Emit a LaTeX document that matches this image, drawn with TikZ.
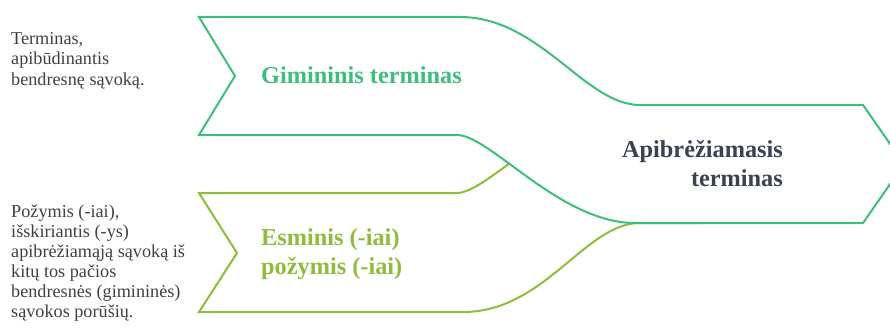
\documentclass[tikz,border=0pt]{standalone}
\usepackage{fontspec}
\setmainfont{Liberation Serif}
\definecolor{gr}{RGB}{61,190,125}
\definecolor{lime}{RGB}{143,188,58}
\definecolor{darktxt}{RGB}{59,64,82}
\definecolor{greytxt}{RGB}{64,64,64}
\tikzset{
  band/.style={line width=2pt, fill=white, line join=miter},
  side/.style={inner sep=0pt, anchor=base west, text=greytxt},
  title/.style={inner sep=0pt, font=\bfseries}
}
\begin{document}
\begin{tikzpicture}[x=1pt,y=-1pt]
\useasboundingbox (0,0) rectangle (890,329);
\clip (0,0) rectangle (890,329);
% lime band
\draw[band, draw=lime] (199,193) -- (457,193) .. controls (488,193) and (560,105) .. (635,105)
  -- (700,105) -- (700,223) -- (640,223) .. controls (585,223) and (545,312) .. (463,312)
  -- (199,312) -- (237,253) -- cycle;
% green band
\draw[band, draw=gr] (199,17) -- (460,17) .. controls (540,17) and (585,105) .. (640,105)
  -- (863,105) -- (904,164) -- (863,223) -- (635,223) .. controls (560,223) and (490,135) .. (457,135)
  -- (199,135) -- (235,76) -- cycle;
% texts
\node[side] (genusdesc) at (11,45) {\parbox[t]{220pt}{\fontsize{18.2}{20}\selectfont\raggedright Terminas,\\apibūdinantis\\bendresnę sąvoką.}};
\node[side] (featdesc) at (11,217) {\parbox[t]{220pt}{\fontsize{18.2}{20}\selectfont\raggedright Požymis (-iai),\\išskiriantis (-ys)\\apibrėžiamąją sąvoką iš\\kitų tos pačios\\bendresnės (gimininės)\\sąvokos porūšių.}};
\node[title, text=gr, anchor=base west] (genus) at (261,83) {\fontsize{24.3}{29}\selectfont Gimininis terminas};
\node[title, text=lime, anchor=base west] (feat) at (261,245) {\parbox[t]{220pt}{\fontsize{24.3}{29}\selectfont\bfseries\raggedright Esminis (-iai)\\požymis (-iai)}};
\node[title, text=darktxt, anchor=base east] (defined) at (783,157) {\parbox[t]{220pt}{\fontsize{24.3}{29}\selectfont\bfseries\raggedleft Apibrėžiamasis\\terminas}};
\end{tikzpicture}
\end{document}
